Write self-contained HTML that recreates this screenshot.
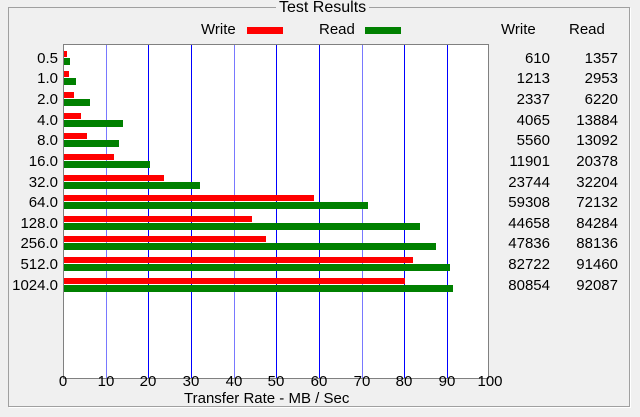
<!DOCTYPE html><html><head><style>
body{margin:0;width:640px;height:417px;background:#f0f0f0;position:relative;overflow:hidden;font-family:"Liberation Sans",sans-serif;font-size:15px;color:#000}
.a{position:absolute;white-space:nowrap}
.box{position:absolute;left:8px;top:7px;width:620px;height:398px;border:1px solid #a0a0a0;box-shadow:1px 1px 0 #fff}
.plot{position:absolute;left:63px;top:44px;width:424px;height:333px;background:#fff;border:1px solid #808080}
.r{position:absolute;height:6px;background:#ff0000;left:0}
.gr{position:absolute;height:7px;background:#008000;left:0}
.lb{position:absolute;right:582px;width:60px;text-align:right}
.w{position:absolute;right:90px;text-align:right}
.d{position:absolute;right:22px;text-align:right}
</style></head><body>
<div class="box"></div>
<div class="a" style="left:276px;top:-1px;background:#f0f0f0;padding:0 3px;font-size:16px">Test Results</div>
<div class="a" style="left:201px;top:21px">Write</div>
<div class="a" style="left:247px;top:27px;width:36px;height:7px;background:#f00"></div>
<div class="a" style="left:319px;top:21px">Read</div>
<div class="a" style="left:365px;top:27px;width:36px;height:7px;background:#008000"></div>
<div class="a" style="left:501px;top:21px">Write</div>
<div class="a" style="left:569px;top:21px">Read</div>
<div class="plot" id="p"><svg width="424" height="333" style="position:absolute;left:0;top:0" shape-rendering="crispEdges">
<g stroke-width="1">
<line x1="42.5" y1="0" x2="42.5" y2="333" stroke="#7878ff"/>
<line x1="84.5" y1="0" x2="84.5" y2="333" stroke="#0000ff"/>
<line x1="127.5" y1="0" x2="127.5" y2="333" stroke="#0000ff"/>
<line x1="170.5" y1="0" x2="170.5" y2="333" stroke="#7878ff"/>
<line x1="212.5" y1="0" x2="212.5" y2="333" stroke="#0000ff"/>
<line x1="255.5" y1="0" x2="255.5" y2="333" stroke="#0000ff"/>
<line x1="298.5" y1="0" x2="298.5" y2="333" stroke="#7878ff"/>
<line x1="340.5" y1="0" x2="340.5" y2="333" stroke="#0000ff"/>
<line x1="383.5" y1="0" x2="383.5" y2="333" stroke="#0000ff"/>
</g></svg></div>
<div id="labels"></div>
<script>
var p=document.getElementById('p'),L=document.getElementById('labels');
var rows=[["0.5",610,1357],["1.0",1213,2953],["2.0",2337,6220],["4.0",4065,13884],["8.0",5560,13092],["16.0",11901,20378],["32.0",23744,32204],["64.0",59308,72132],["128.0",44658,84284],["256.0",47836,88136],["512.0",82722,91460],["1024.0",80854,92087]];
var h='';
rows.forEach(function(r,i){var pt=Math.round(50.6+i*20.65-45);
h+='<div class="r" style="top:'+pt+'px;width:'+Math.round(r[1]/1000*4.22)+'px"></div>';
h+='<div class="gr" style="top:'+(pt+7)+'px;width:'+Math.round(r[2]/1000*4.22)+'px"></div>';
});
p.insertAdjacentHTML('beforeend',h);
var s='';
rows.forEach(function(r,i){var t=Math.round(50.6+i*20.65-1);
s+='<div class="a lb" style="top:'+t+'px">'+r[0]+'</div>';
s+='<div class="a w" style="top:'+t+'px">'+r[1]+'</div>';
s+='<div class="a d" style="top:'+t+'px">'+r[2]+'</div>';});
for(var k=0;k<=10;k++){s+='<div class="a" style="top:373px;left:'+Math.round(63+k*42.67-30)+'px;width:60px;text-align:center">'+(k*10)+'</div>';}
s+='<div class="a" style="top:390px;left:184px">Transfer Rate - MB / Sec</div>';
L.innerHTML=s;
</script>
</body></html>
